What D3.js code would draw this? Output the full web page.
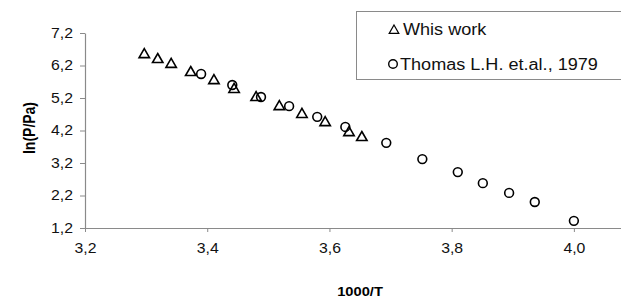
<!DOCTYPE html>
<html>
<head>
<meta charset="utf-8">
<script src="https://cdn.jsdelivr.net/npm/d3@7"></script>
<style>
  body { margin: 0; background: #fff; }
  svg { display: block; font-family: "Liberation Sans", Arial, sans-serif; }
</style>
</head>
<body>
<div id="chart"></div>
<script>
// data
const workX = [3.297, 3.319, 3.341, 3.373, 3.411, 3.444, 3.480, 3.518, 3.555, 3.593, 3.632, 3.653];
const workY = [6.58, 6.43, 6.28, 6.03, 5.78, 5.51, 5.26, 4.98, 4.74, 4.49, 4.18, 4.03];
const thomasX = [3.390, 3.441, 3.488, 3.534, 3.580, 3.626, 3.693, 3.752, 3.810, 3.851, 3.894, 3.936, 4.000];
const thomasY = [5.94, 5.60, 5.23, 4.95, 4.62, 4.31, 3.82, 3.32, 2.92, 2.58, 2.28, 2.00, 1.42];
const xTicks = [3.2, 3.4, 3.6, 3.8, 4.0];
const yTicks = [1.2, 2.2, 3.2, 4.2, 5.2, 6.2, 7.2];
const seriesNames = ['Whis work', 'Thomas L.H. et.al., 1979'];

const width = 621, height = 302;
const stretch = 1.13; // the picture's text is a bit wide
const fmt = v => d3.format('.1f')(v).replace('.', ',');

const svg = d3.select('#chart').append('svg')
  .attr('width', width)
  .attr('height', height);

const x = d3.scaleLinear().domain([3.2, 4.1]).range([85, 635]);
const y = d3.scaleLinear().domain([1.2, 7.2]).range([228, 33]);

const axisColor = '#8a8a8a';

// y axis
const gy = svg.append('g')
  .attr('transform', 'translate(85,0)')
  .call(d3.axisLeft(y).tickValues(yTicks).tickFormat(fmt).tickSize(5).tickSizeOuter(0).tickPadding(7));

// x axis
const gx = svg.append('g')
  .attr('transform', 'translate(0,228)')
  .call(d3.axisBottom(x).tickValues(xTicks).tickFormat(fmt).tickSize(4).tickSizeOuter(0).tickPadding(11));

[gx, gy].forEach(g => {
  g.select('.domain').attr('stroke', axisColor).attr('stroke-width', 1.2);
  g.selectAll('.tick line').attr('stroke', axisColor);
  g.selectAll('.tick text')
    .attr('fill', '#111')
    .style('font-size', '14px');
});
gy.selectAll('.tick text').attr('transform', function () {
  const tx = +d3.select(this).attr('x');
  return `translate(${tx},0) scale(${stretch},1) translate(${-tx},0)`;
});
gx.selectAll('.tick text').attr('transform', `scale(${stretch},1)`);

// axis titles
svg.append('text')
  .attr('transform', `translate(360,296) scale(${stretch},1)`)
  .attr('text-anchor', 'middle')
  .style('font-size', '13px')
  .style('font-weight', 'bold')
  .text('1000/T');

svg.append('text')
  .attr('transform', `translate(35,128) rotate(-90) scale(1,${stretch})`)
  .attr('text-anchor', 'middle')
  .style('font-size', '14px')
  .style('font-weight', 'bold')
  .text('ln(P/Pa)');

const triPath = 'M0,-5.5L5.2,3.5L-5.2,3.5Z';

// series: this work (triangles)
svg.append('g').selectAll('path')
  .data(d3.zip(workX, workY))
  .join('path')
  .attr('d', triPath)
  .attr('transform', d => `translate(${x(d[0])},${y(d[1]) + 1})`)
  .attr('fill', 'none')
  .attr('stroke', '#000')
  .attr('stroke-width', 1.6);

// series: Thomas (circles)
svg.append('g').selectAll('circle')
  .data(d3.zip(thomasX, thomasY))
  .join('circle')
  .attr('cx', d => x(d[0]))
  .attr('cy', d => y(d[1]))
  .attr('r', 4.4)
  .attr('fill', 'none')
  .attr('stroke', '#000')
  .attr('stroke-width', 1.6);

// legend
const lg = svg.append('g');
lg.append('rect')
  .attr('x', 356.5).attr('y', 11.5)
  .attr('width', 270).attr('height', 68)
  .attr('fill', '#fff')
  .attr('stroke', axisColor)
  .attr('stroke-width', 1);

lg.append('path')
  .attr('d', 'M0,-5L4.8,3.4L-4.8,3.4Z')
  .attr('transform', 'translate(394,30)')
  .attr('fill', 'none')
  .attr('stroke', '#000')
  .attr('stroke-width', 1.2);
lg.append('circle')
  .attr('cx', 393).attr('cy', 64).attr('r', 4.3)
  .attr('fill', 'none')
  .attr('stroke', '#000')
  .attr('stroke-width', 1.4);

lg.selectAll('text.leg')
  .data(seriesNames)
  .join('text')
  .attr('class', 'leg')
  .attr('transform', (d, i) => `translate(${i === 0 ? 403 : 400},${i === 0 ? 35 : 70}) scale(${stretch},1)`)
  .style('font-size', '16px')
  .attr('fill', '#111')
  .text(d => d);
</script>
</body>
</html>
